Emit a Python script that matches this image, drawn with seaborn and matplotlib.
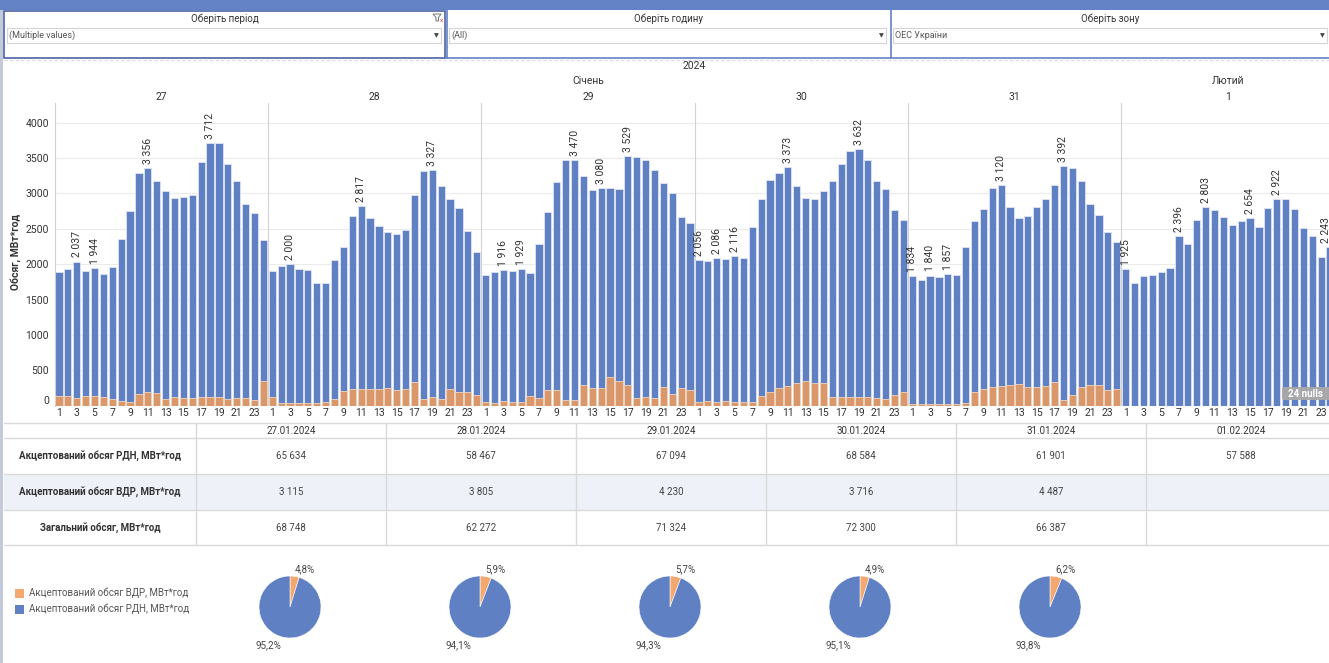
import numpy as np
import pandas as pd
import matplotlib
matplotlib.use("Agg")
import matplotlib.pyplot as plt
import matplotlib.transforms as mtransforms
from matplotlib.patches import Rectangle, FancyBboxPatch, Polygon
import seaborn as sns

# ---------------- data ----------------
day_numbers = ["27", "28", "29", "30", "31", "1"]
table_dates = ["27.01.2024", "28.01.2024", "29.01.2024", "30.01.2024", "31.01.2024", "01.02.2024"]
hours = list(range(1, 25))

rdn_27 = [1894, 1932, 2037, 1899, 1944, 1866, 1956, 2356, 2752, 3289, 3356, 3181,
          3035, 2936, 2945, 2978, 3445, 3712, 3708, 3412, 3181, 2846, 2729, 2342]
rdn_28 = [1899, 1979, 2000, 1932, 1913, 1734, 1734, 2055, 2248, 2681, 2817, 2653,
          2540, 2451, 2427, 2483, 2978, 3313, 3327, 3106, 2917, 2795, 2465, 2168]
rdn_29 = [1847, 1890, 1916, 1899, 1929, 1880, 2286, 2738, 3157, 3468, 3470, 3242,
          3049, 3080, 3077, 3058, 3529, 3520, 3468, 3332, 3148, 3002, 2663, 2582]
rdn_30 = [2056, 2045, 2086, 2074, 2116, 2088, 2531, 2926, 3190, 3289, 3373, 3106,
          2936, 2922, 3035, 3181, 3421, 3600, 3632, 3478, 3181, 3058, 2766, 2630]
rdn_31 = [1834, 1777, 1840, 1814, 1857, 1852, 2248, 2606, 2785, 3082, 3120, 2813,
          2653, 2681, 2804, 2926, 3124, 3392, 3355, 3171, 2856, 2696, 2451, 2309]
rdn_01 = [1925, 1734, 1838, 1847, 1890, 1941, 2396, 2286, 2620, 2803, 2762, 2663,
          2549, 2606, 2654, 2531, 2795, 2922, 2926, 2776, 2512, 2399, 2102, 2243]

vdr_27 = [143, 143, 111, 143, 134, 120, 97, 64, 54, 172, 200, 177,
          97, 120, 111, 111, 120, 120, 120, 97, 111, 111, 78, 346]
vdr_28 = [120, 45, 45, 45, 45, 45, 59, 101, 210, 243, 243, 229,
          243, 257, 219, 229, 342, 92, 120, 101, 229, 200, 191, 153]
vdr_29 = [53, 44, 63, 53, 53, 133, 105, 218, 228, 77, 86, 298,
          256, 256, 407, 350, 298, 110, 119, 110, 270, 171, 246, 218]
vdr_30 = [49, 63, 49, 63, 49, 58, 58, 134, 190, 247, 275, 322,
          346, 322, 322, 129, 124, 124, 129, 124, 110, 91, 148, 190]
vdr_31 = [31, 31, 21, 21, 21, 21, 45, 200, 243, 266, 285, 299,
          309, 266, 266, 276, 328, 87, 153, 266, 299, 299, 219, 243]
vdr_01 = None  # 24 nulls

labeled_hours = [[3, 5, 11, 18], [3, 11, 19], [3, 5, 11, 14, 17],
                 [1, 3, 5, 11, 19], [1, 3, 5, 11, 18], [1, 7, 10, 15, 18, 24]]

table_rdn = [65634, 58467, 67094, 68584, 61901, 57588]
table_vdr = [3115, 3805, 4230, 3716, 4487, None]
table_total = [68748, 62272, 71324, 72300, 66387, None]
row_labels = ["Акцептований обсяг РДН, МВт*год",
              "Акцептований обсяг ВДР, МВт*год",
              "Загальний обсяг, МВт*год"]

pie_vdr_pct = [4.8, 5.9, 5.7, 4.9, 6.2]
pie_rdn_pct = [95.2, 94.1, 94.3, 95.1, 93.8]
legend_labels = ["Акцептований обсяг ВДР, МВт*год", "Акцептований обсяг РДН, МВт*год"]

yticks = [0, 500, 1000, 1500, 2000, 2500, 3000, 3500, 4000]

rdn_hourly = [rdn_27, rdn_28, rdn_29, rdn_30, rdn_31, rdn_01]
vdr_hourly = [vdr_27, vdr_28, vdr_29, vdr_30, vdr_31, vdr_01]

# ---------------- style ----------------
sns.set_style("white")
plt.rcParams["font.family"] = ["Roboto", "DejaVu Sans"]

BLUE = "#6080c4"
ORANGE_BAR = "#d9976a"
ORANGE_PIE = "#f2a86f"
TXT = "#333333"
GRID = "#ebebeb"
LINE = "#d9d9d9"

W, H = 1329, 663
fig = plt.figure(figsize=(W / 100, H / 100), dpi=100)
fig.patch.set_facecolor("white")


def fx(px):
    return px / W


def fy(py):
    return 1 - py / H


def fmt(v):
    return f"{v:,}".replace(",", " ")


rows = []
for d in range(len(day_numbers)):
    for h in range(24):
        v = vdr_hourly[d]
        rows.append(dict(pos=d * 24 + h, day=day_numbers[d], hour=hours[h],
                         rdn=rdn_hourly[d][h],
                         vdr=(v[h] if v is not None else np.nan)))
df = pd.DataFrame(rows)

# ---------------- bar chart ----------------
x0, x1 = 54.5, 1334.5
y_top, y_zero = 103, 405.7
ax = fig.add_axes([fx(x0), fy(y_zero), (x1 - x0) / W, (y_zero - y_top) / H])
sns.barplot(data=df, x="pos", y="rdn", native_scale=True, color=BLUE, saturation=1,
            width=0.82, errorbar=None, edgecolor="#dfe5f3", linewidth=0.6, ax=ax, zorder=2)
sns.barplot(data=df.dropna(subset=["vdr"]), x="pos", y="vdr", native_scale=True,
            color=ORANGE_BAR, saturation=1, width=0.82, errorbar=None,
            edgecolor="#f1d6c2", linewidth=0.6, ax=ax, zorder=3)
ax.set_xlim(-0.5, 143.5)
ax.set_ylim(0, 4278)
ax.set_xlabel("")
ax.set_ylabel("")

xt, xl = [], []
for d in range(len(day_numbers)):
    for h in hours:
        if h % 2 == 1:
            xt.append(d * 24 + h - 1)
            xl.append(str(h))
ax.set_xticks(xt)
ax.set_xticklabels(xl, fontsize=7.5, color=TXT)
ax.set_yticks(yticks)
ax.set_yticklabels([str(t) for t in yticks], fontsize=7.5, color=TXT)
ax.get_yticklabels()[0].set_va("bottom")
ax.tick_params(axis="x", length=0, pad=2)
ax.tick_params(axis="y", length=0, pad=4)
for s in ["top", "right", "bottom"]:
    ax.spines[s].set_visible(False)
ax.spines["left"].set_color("#cfcfcf")
ax.spines["left"].set_linewidth(0.8)
ax.yaxis.grid(True, color=GRID, lw=0.8)
ax.set_axisbelow(True)
for d in range(1, len(day_numbers)):
    ax.axvline(d * 24 - 0.5, color="#d2d2d2", lw=0.8, zorder=1)

n_days = len(day_numbers)
for d, hs in enumerate(labeled_hours):
    for h in hs:
        val = rdn_hourly[d][h - 1]
        # keep the very last label (at the cut right edge) inside the picture
        dx = -3 if (d == n_days - 1 and h == 24) else 0
        ax.annotate(fmt(val), (d * 24 + h - 1, val), xytext=(dx, 3),
                    textcoords="offset points", rotation=90, ha="center",
                    va="bottom", fontsize=7.5, color=TXT, zorder=5)

fig.text(fx(16), fy(252), "Обсяг, МВт*год", rotation=90, ha="center", va="center",
         fontsize=7.5, fontweight="bold", color=TXT)

# ---------------- overlay (pixel coords) ----------------
ov = fig.add_axes([0, 0, 1, 1], zorder=5)
ov.set_xlim(0, W)
ov.set_ylim(H, 0)
ov.axis("off")
ov.patch.set_alpha(0)

# banner and left strip
ov.add_patch(Rectangle((0, 0), W, 10, fc="#6482c6", ec="none"))
ov.add_patch(Rectangle((0, 10), 3, H - 10, fc="#c3cadb", ec="none"))

# filters
filters = [("Оберіть період", "(Multiple values)", 4, 445),
           ("Оберіть годину", "(All)", 446, 890),
           ("Оберіть зону", "ОЕС України", 890, W + 2)]
for i, (title, val, a, b) in enumerate(filters):
    ov.text((a + b) / 2, 18.5, title, ha="center", va="center", fontsize=7, color=TXT)
    ov.add_patch(Rectangle((a + 3, 28), b - a - 7, 15, fc="white", ec="#d4d4d4", lw=0.8))
    ov.text(a + 5, 35.5, val, ha="left", va="center", fontsize=6.5, color="#555555")
    ov.text(b - 9, 35.5, "▼", ha="center", va="center", fontsize=4.5, color="#444444",
            family="DejaVu Sans")
ov.add_patch(Rectangle((4, 10.5), 441, 47, fill=False, ec="#4b63a6", lw=1.2))
ov.plot([446.5, 446.5], [10, 58], color="#6482c6", lw=1.2)
ov.plot([890.5, 890.5], [10, 58], color="#6482c6", lw=1.2)
ov.plot([446, W], [57.5, 57.5], color="#6482c6", lw=1.2)
ov.plot([4, W], [60, 60], color="#d5dbe8", lw=0.8, ls=(0, (3, 2)))
# filter clear icon
ov.add_patch(Polygon([[433, 14], [441, 14], [438.5, 17.5], [438.5, 21], [436, 21],
                      [436, 17.5]], closed=True, fc="none", ec="#777777", lw=0.7))
ov.text(441, 20, "x", ha="center", va="center", fontsize=4.5, color="#d03030")

# period headers (x in bar data coords, y in pixels)
tr = mtransforms.blended_transform_factory(ax.transData, ov.transData)
ov.text(71.5, 66, "2024", transform=tr, ha="center", va="center", fontsize=7.5, color=TXT)
ov.text(59.5, 81, "Січень", transform=tr, ha="center", va="center", fontsize=7.5, color=TXT)
ov.text(131.5, 81, "Лютий", transform=tr, ha="center", va="center", fontsize=7.5, color=TXT)
for d, dn in enumerate(day_numbers):
    ov.text(d * 24 + 11.5, 97, dn, transform=tr, ha="center", va="center",
            fontsize=7.5, color=TXT)

# 24 nulls badge
ov.add_patch(FancyBboxPatch((1282, 387), 52, 13, boxstyle="round,pad=0,rounding_size=2",
                            fc="#a9a9a9", ec="none", alpha=0.95))
ov.text(1305, 393.8, "24 nulls", ha="center", va="center", fontsize=7, color="white",
        fontweight="bold")

# ---------------- table ----------------
col_w = 190
col0 = 196
ov.add_patch(Rectangle((4, 474), W - 4, 36, fc="#eef1f8", ec="none"))
for yy in [422.5, 438, 474, 510, 545]:
    ov.plot([4, W], [yy, yy], color=LINE, lw=1)
for k in range(len(table_dates)):
    ov.plot([col0 + k * col_w, col0 + k * col_w], [422.5, 545], color=LINE, lw=1)
for k, dt in enumerate(table_dates):
    cx = col0 + col_w * (k + 0.5)
    ov.text(cx, 431, dt, ha="center", va="center", fontsize=7, color=TXT)
row_y = [456, 492, 528]
for r, (lab, vals) in enumerate(zip(row_labels, [table_rdn, table_vdr, table_total])):
    ov.text(100, row_y[r], lab, ha="center", va="center", fontsize=7, fontweight="bold",
            color=TXT)
    for k, v in enumerate(vals):
        if v is None:
            continue
        ov.text(col0 + col_w * (k + 0.5), row_y[r], fmt(v), ha="center", va="center",
                fontsize=7, color="#444444")

# ---------------- legend ----------------
for i, (lab, c) in enumerate(zip(legend_labels, [ORANGE_PIE, BLUE])):
    yy = 593 + i * 16
    ov.add_patch(Rectangle((15, yy - 4.5), 9, 9, fc=c, ec="none"))
    ov.text(29, yy, lab, ha="left", va="center", fontsize=7, color="#555555")

# ---------------- pies ----------------
r_pie = 31
for k in range(len(pie_vdr_pct)):
    cx = 290 + col_w * k
    cy = 607
    pax = fig.add_axes([fx(cx - r_pie), fy(cy + r_pie), 2 * r_pie / W, 2 * r_pie / H])
    pax.pie([pie_vdr_pct[k], pie_rdn_pct[k]], colors=[ORANGE_PIE, BLUE], startangle=90,
            counterclock=False, radius=1,
            wedgeprops=dict(linewidth=0.4, edgecolor="white"))
    pax.set_xlim(-1, 1)
    pax.set_ylim(-1, 1)
    pax.set_aspect("equal")
    ov.text(cx + 15, 569, f"{pie_vdr_pct[k]:.1f}%".replace(".", ","), ha="center",
            va="center", fontsize=7, color="#444444")
    ov.text(cx - 22, 645, f"{pie_rdn_pct[k]:.1f}%".replace(".", ","), ha="center",
            va="center", fontsize=7, color="#444444")

fig.savefig("out.png", dpi=100)
